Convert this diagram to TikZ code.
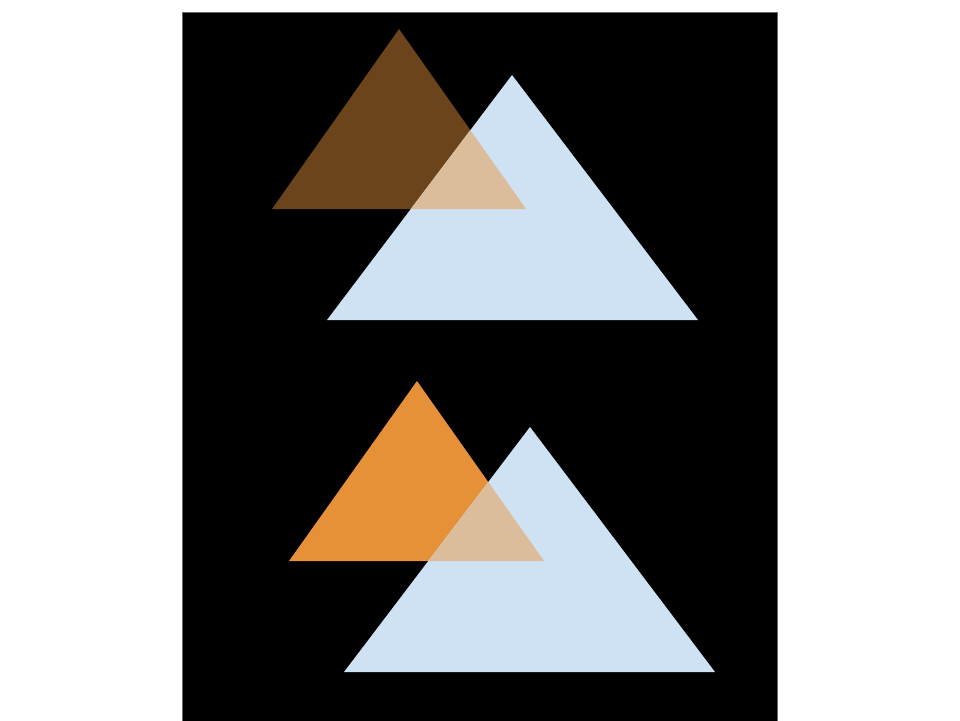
\documentclass[tikz,border=0pt]{standalone}
\usetikzlibrary{positioning}

\definecolor{darkbrown}{HTML}{6B441C}
\definecolor{warmorange}{HTML}{E69138}
\definecolor{paleblue}{HTML}{CFE2F3}
\definecolor{tanmix}{HTML}{DBBC9B}

\begin{document}
\begin{tikzpicture}[x=0.02cm,y=-0.02cm]
\tikzset{
  backdrop/.style={fill=black,draw=black!60,line width=0.4pt},
  shape/.style={draw=none},
  mixed/.style={fill=tanmix,draw=none}
}
\useasboundingbox (0,0) rectangle (960,720);
\fill[white] (0,0) rectangle (960,720);
\path[backdrop] (182,12) rectangle (777,722);
% upper pair
\fill[darkbrown] (399,29) -- (526,209) -- (272,209) -- cycle;
\fill[paleblue] (512,75) -- (698,320) -- (327,320) -- cycle;
\begin{scope}
  \clip (399,29) -- (526,209) -- (272,209) -- cycle;
  \fill[mixed] (512,75) -- (698,320) -- (327,320) -- cycle;
\end{scope}
% lower pair
\fill[warmorange] (417,381) -- (544,561) -- (289,561) -- cycle;
\fill[paleblue] (530,427) -- (715,672) -- (344,672) -- cycle;
\begin{scope}
  \clip (417,381) -- (544,561) -- (289,561) -- cycle;
  \fill[mixed] (530,427) -- (715,672) -- (344,672) -- cycle;
\end{scope}
\end{tikzpicture}
\end{document}
